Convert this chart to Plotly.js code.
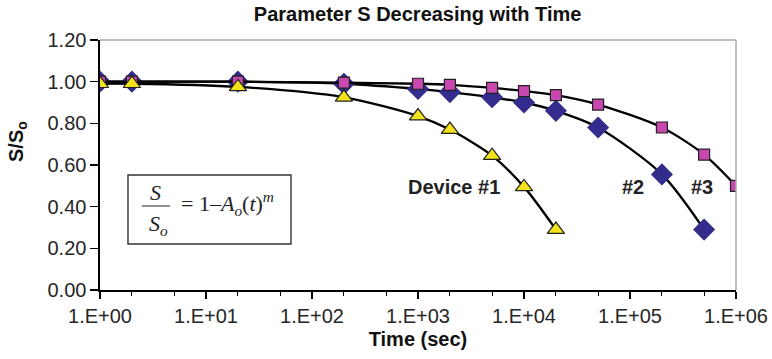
<!DOCTYPE html>
<html><head><meta charset="utf-8">
<script src="https://cdn.plot.ly/plotly-3.0.1.min.js"></script>
<style>body{margin:0;background:#fff}#c{width:772px;height:359px}</style>
</head><body><div id="c"></div>
<script>
const timeD1 = [1, 2, 20, 200, 1000, 2000, 5000, 10000, 20000];
const sD1 = [0.99, 0.99, 0.975, 0.925, 0.835, 0.77, 0.645, 0.495, 0.29];
const timeD2 = [1, 2, 20, 200, 1000, 2000, 5000, 10000, 20000, 50000, 200000, 500000];
const sD2 = [1.0, 1.0, 1.0, 0.99, 0.965, 0.95, 0.925, 0.90, 0.86, 0.78, 0.555, 0.29];
const timeD3 = [1, 2, 20, 200, 1000, 2000, 5000, 10000, 20000, 50000, 200000, 500000, 1000000];
const sD3 = [1.0, 1.0, 1.0, 0.995, 0.99, 0.985, 0.97, 0.955, 0.935, 0.89, 0.78, 0.65, 0.50];
const xTickVals = [1, 10, 100, 1000, 10000, 100000, 1000000];
const xTickText = ['1.E+00', '1.E+01', '1.E+02', '1.E+03', '1.E+04', '1.E+05', '1.E+06'];
const seriesLabels = ['Device #1', '#2', '#3'];

const lineStyle = {color: '#000', width: 2.3, shape: 'spline', smoothing: 0.8};
const traces = [
  {x: timeD2, y: sD2, mode: 'lines+markers', line: lineStyle,
   marker: {symbol: 'diamond', size: 17, color: '#332C8C', line: {color: '#332C8C', width: 0}}},
  {x: timeD3, y: sD3, mode: 'lines+markers', line: lineStyle,
   marker: {symbol: 'square', size: 11, color: '#C848B0', line: {color: '#222', width: 1.2}}},
  {x: timeD1, y: sD1, mode: 'lines+markers', line: lineStyle,
   marker: {symbol: 'triangle-up', size: 15, color: '#F2E21C', line: {color: '#222', width: 1.2}}}
];

const sans = 'Liberation Sans, Arial, sans-serif';
const serif = 'Liberation Serif, Times New Roman, serif';
function note(text, x, y, font, extra) {
  return Object.assign({text: text, xref: 'paper', yref: 'paper', x: x, y: y,
    xanchor: 'center', yanchor: 'middle', showarrow: false, font: font}, extra || {});
}
const labelFont = {size: 20, family: sans, color: '#222'};
const eqFont = {size: 22, family: serif, color: '#222'};
const layout = {
  width: 772, height: 359,
  margin: {l: 100, r: 36, t: 40, b: 69},
  paper_bgcolor: '#fff', plot_bgcolor: '#fff',
  showlegend: false,
  font: {family: sans, color: '#222'},
  title: {text: '<b>Parameter S Decreasing with Time</b>', x: 0.541, xanchor: 'center', y: 0.96, yanchor: 'middle',
          font: {size: 20, family: sans, color: '#111'}},
  xaxis: {type: 'log', range: [0, 6], tickvals: xTickVals, ticktext: xTickText,
          ticks: 'outside', ticklen: 7, tickwidth: 1.3, tickcolor: '#000',
          minor: {ticks: 'outside', ticklen: 4, tickwidth: 1, tickcolor: '#000', showgrid: false},
          showline: true, linecolor: '#000', linewidth: 1.6, showgrid: false, zeroline: false,
          tickfont: {size: 20, family: sans, color: '#262626'},
          title: {text: '<b>Time (sec)</b>', standoff: 6, font: {size: 20, family: sans, color: '#111'}}},
  yaxis: {range: [0, 1.2], dtick: 0.2, tickformat: '.2f',
          ticks: 'outside', ticklen: 8, tickwidth: 1.3, tickcolor: '#000',
          showline: true, linecolor: '#000', linewidth: 1.6, showgrid: false, zeroline: false,
          tickfont: {size: 20, family: sans, color: '#262626'}},
  shapes: [
    {type: 'line', xref: 'paper', yref: 'paper', x0: 0, x1: 1, y0: 1, y1: 1, line: {color: '#a8a8a8', width: 1.5}},
    {type: 'line', xref: 'paper', yref: 'paper', x0: 1, x1: 1, y0: 0, y1: 1, line: {color: '#a8a8a8', width: 1.5}},
    {type: 'rect', xref: 'paper', yref: 'paper', x0: 0.044, x1: 0.3003, y0: 0.184, y1: 0.46,
     line: {color: '#333', width: 1.4}, fillcolor: 'rgba(0,0,0,0)'},
    {type: 'line', xref: 'paper', yref: 'paper', x0: 0.066, x1: 0.110, y0: 0.336, y1: 0.336,
     line: {color: '#222', width: 1}}
  ],
  annotations: [
    note('<b>S/S<sub>o</sub></b>', -0.1305, 0.592, {size: 20, family: sans, color: '#111'}, {textangle: -90}),
    note('<b>' + seriesLabels[0] + '</b>', 0.557, 0.412, labelFont),
    note('<b>' + seriesLabels[1] + '</b>', 0.838, 0.412, labelFont),
    note('<b>' + seriesLabels[2] + '</b>', 0.946, 0.412, labelFont),
    note('<i>S</i>', 0.088, 0.39, eqFont),
    note('<i>S<sub>o</sub></i>', 0.0925, 0.262, eqFont),
    note('= 1\u2013<i>A<sub>o</sub></i>(<i>t</i>)<sup><i>m</i></sup>', 0.124, 0.345, eqFont, {xanchor: 'left'})
  ]
};
Plotly.newPlot('c', traces, layout, {displayModeBar: false, staticPlot: true});
</script></body></html>
